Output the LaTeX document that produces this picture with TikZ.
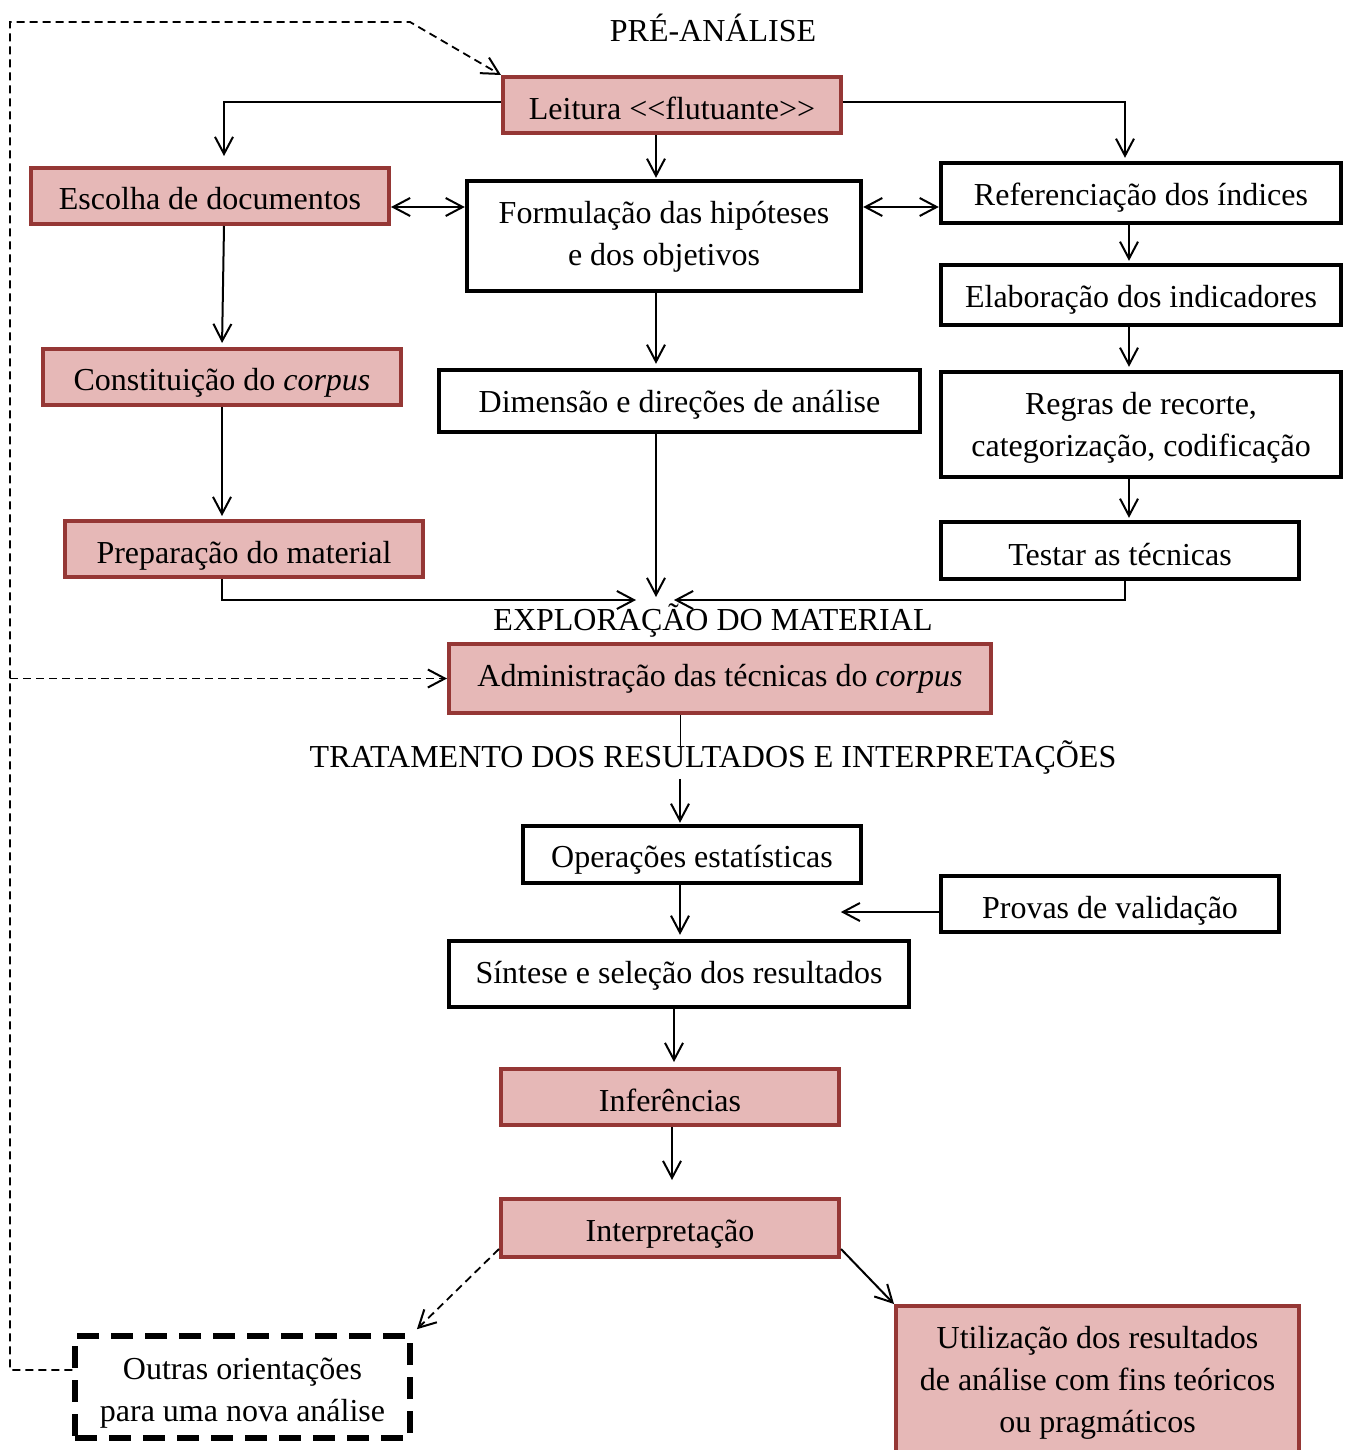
\documentclass[tikz,border=0pt]{standalone}
\usepackage{fontspec}
\setmainfont{Liberation Serif}
\usetikzlibrary{arrows.meta,calc}
\definecolor{pinkfill}{HTML}{E6B8B7}
\definecolor{pinkdraw}{HTML}{953735}
\newcommand{\lowtxt}[2]{\raisebox{-#1}[\height][\depth]{#2}}
\newcommand{\twolines}[2]{\begin{tabular}{@{}c@{}}#1\\#2\end{tabular}}
\newcommand{\threelines}[3]{\begin{tabular}{@{}c@{}}#1\\#2\\#3\end{tabular}}
\begin{document}
\begin{tikzpicture}[x=0.5pt,y=-0.5pt,
  font=\fontsize{16}{21}\selectfont,
  pinkbox/.style={draw=pinkdraw,fill=pinkfill,line width=2pt,inner sep=2pt,align=center},
  blackbox/.style={draw=black,line width=2.2pt,inner sep=2pt,align=center},
  dashbox/.style={draw=black,line width=2.6pt,dash pattern=on 11pt off 6pt,inner sep=2pt,align=center},
  title/.style={inner sep=1pt},
  arr/.style={line width=1pt,-{Straight Barb[length=8.5pt,width=9pt,line width=1pt]}},
  arrb/.style={line width=1pt,{Straight Barb[length=8.5pt,width=9pt,line width=1pt]}-{Straight Barb[length=8.5pt,width=9pt,line width=1pt]}},
  darr/.style={line width=0.9pt,dash pattern=on 4pt off 2.5pt,-{Straight Barb[length=8.5pt,width=9pt,line width=1pt]}}]
\useasboundingbox (0,0) rectangle (1346,1450);
% titles
\node[title] (t1) at (713,28) {PRÉ-ANÁLISE};
\node[title] (t2) at (713,621) {EXPLORAÇÃO DO MATERIAL};
\node[title] (t3) at (713,758) {TRATAMENTO DOS RESULTADOS E INTERPRETAÇÕES};
% pink boxes
\node[pinkbox,minimum width=169pt,minimum height=28pt] (lei) at (672,105) {\lowtxt{1.5pt}{Leitura \textless\kern0pt\textless flutuante\textgreater\kern0pt\textgreater}};
\node[pinkbox,minimum width=179pt,minimum height=28pt] (esc) at (210,196) {\lowtxt{1.5pt}{Escolha de documentos}};
\node[pinkbox,minimum width=179pt,minimum height=28pt] (con) at (222,377) {\lowtxt{3pt}{Constituição do \textit{corpus}}};
\node[pinkbox,minimum width=179pt,minimum height=28pt] (pre) at (244,549) {\lowtxt{3.5pt}{Preparação do material}};
\node[pinkbox,minimum width=271pt,minimum height=34.5pt] (adm) at (720,678.5) {Administração das técnicas do \textit{corpus}};
\node[pinkbox,minimum width=169pt,minimum height=28pt] (inf) at (670,1097) {\lowtxt{1.5pt}{Inferências}};
\node[pinkbox,minimum width=169pt,minimum height=29pt] (int) at (670,1228) {\lowtxt{3pt}{Interpretação}};
\node[pinkbox,minimum width=201.5pt,minimum height=75pt] (uti) at (1097.5,1381) {\lowtxt{0.5pt}{\threelines{Utilização dos resultados}{de análise com fins teóricos}{ou pragmáticos}}};
% black boxes
\node[blackbox,minimum width=197pt,minimum height=55pt] (for) at (664,236) {\twolines{Formulação das hipóteses}{e dos objetivos}};
\node[blackbox,minimum width=240.5pt,minimum height=31pt] (dim) at (679.5,401) {\lowtxt{2pt}{Dimensão e direções de análise}};
\node[blackbox,minimum width=200pt,minimum height=30pt] (ref) at (1141,193) {\lowtxt{2.5pt}{Referenciação dos índices}};
\node[blackbox,minimum width=200pt,minimum height=30pt] (ela) at (1141,295) {\lowtxt{2.5pt}{Elaboração dos indicadores}};
\node[blackbox,minimum width=200pt,minimum height=52.5pt] (reg) at (1141,424.5) {\lowtxt{1.3pt}{\twolines{Regras de recorte,}{categorização, codificação}}};
\node[blackbox,minimum width=179pt,minimum height=28.5pt] (tes) at (1120,550.5) {\lowtxt{2pt}{Testar as técnicas}};
\node[blackbox,minimum width=169pt,minimum height=28.5pt] (ops) at (692,854.5) {\lowtxt{2.5pt}{Operações estatísticas}};
\node[blackbox,minimum width=169pt,minimum height=28pt] (pro) at (1110,904) {\lowtxt{3.5pt}{Provas de validação}};
\node[blackbox,minimum width=230pt,minimum height=33pt] (sin) at (679,974) {\lowtxt{1pt}{Síntese e seleção dos resultados}};
\node[dashbox,minimum width=167.5pt,minimum height=51pt] (out) at (242.5,1387) {\lowtxt{2.5pt}{\twolines{Outras orientações}{para uma nova análise}}};
% coordinates
\coordinate (meet) at (656,600);
\coordinate (tl) at (10,22);
\coordinate (tr) at (410,22);
% connectors
\draw[arr] ([yshift=1.5pt]lei.west) -| ([xshift=7pt,yshift=5pt]esc.north);
\draw[arr] ([xshift=-8pt]lei.south) -- ([xshift=-8pt,yshift=0.5pt]lei.south |- for.north);
\draw[arr] ([yshift=1.5pt]lei.east) -| ([xshift=-8pt,yshift=1.5pt]ref.north);
\draw[arrb] ([yshift=-5.5pt]esc.east) -- ([yshift=-5.5pt]esc.east -| for.west);
\draw[arrb] ([yshift=-5.5pt]esc.east -| for.east) -- ([yshift=-5.5pt]esc.east -| ref.west);
\draw[arr,shorten >=2pt] ([xshift=7pt]esc.south) -- (con.north);
\draw[arr,shorten >=1.5pt] (con.south) -- (con.south |- pre.north);
\draw[arr,shorten >=2pt] ([xshift=-4pt]for.south) -- ([xshift=-4pt]for.south |- dim.north);
\draw[arr,shorten >=1pt] ([xshift=-6pt]ref.south) -- ([xshift=-6pt]ref.south |- ela.north);
\draw[arr,shorten >=1.5pt] ([xshift=-6pt]ela.south) -- ([xshift=-6pt]ela.south |- reg.north);
\draw[arr,shorten >=1pt] ([xshift=-6pt]reg.south) -- ([xshift=-6pt]reg.south |- tes.north);
\draw[arr] (dim.south -| meet) -- ([yshift=1.5pt]meet);
\draw[arr] ([xshift=-11pt]pre.south) |- ([xshift=-10pt]meet);
\draw[arr] ([xshift=2.5pt]tes.south) |- ([xshift=9pt]meet);
\draw ([xshift=-20pt]adm.south) -- ([xshift=-20pt,yshift=-16pt]adm.south);
\draw[arr] ([xshift=-6pt,yshift=22.5pt]ops.north) -- ([xshift=-6pt,yshift=0.5pt]ops.north);
\draw[arr,shorten >=2pt] ([xshift=-6pt]ops.south) -- ([xshift=-6pt]ops.south |- sin.north);
\draw[arr] ([yshift=-4pt]pro.west) -- ([xshift=-49pt,yshift=-4pt]pro.west);
\draw[arr,shorten >=2.5pt] ([xshift=-2.5pt]sin.south) -- ([xshift=-2.5pt]sin.south |- inf.north);
\draw[arr,shorten >=8.5pt] ([xshift=1pt]inf.south) -- ([xshift=1pt]inf.south |- int.north);
\draw[arr] ([yshift=5pt]int.south east) -- (uti.north west);
\draw[darr,shorten >=3pt] ([yshift=5pt]int.south west) -- (out.north east);
\draw[darr] ([yshift=8.5pt]out.west) -| (tl) -- (tr) -- (lei.north west);
\draw[darr] (tl |- adm.west) -- (adm.west);
\end{tikzpicture}
\end{document}
